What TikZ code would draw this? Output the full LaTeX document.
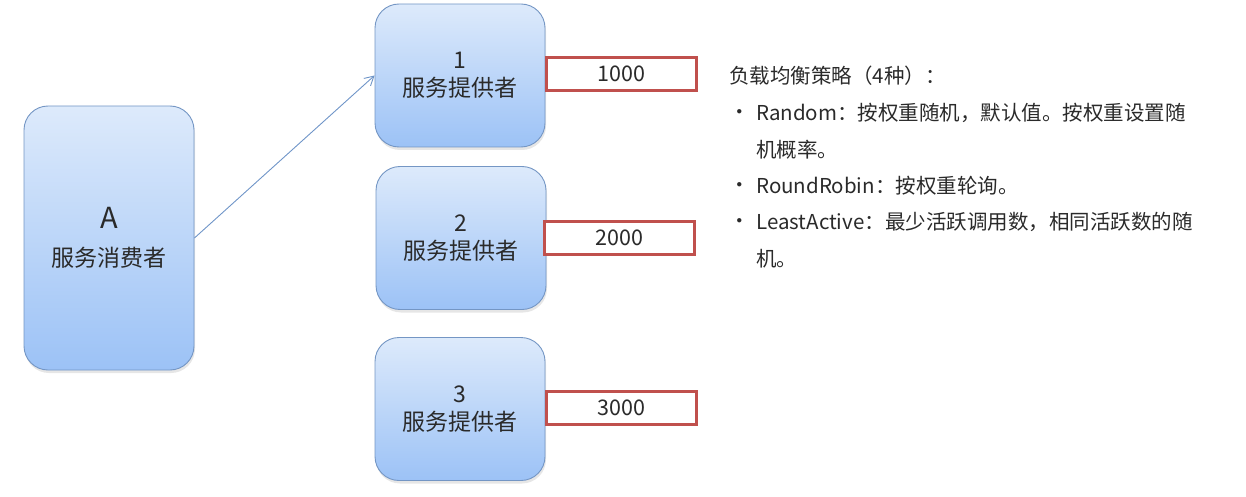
\documentclass[tikz,border=0pt]{standalone}
\usepackage{fontspec}
\setmainfont{Noto Sans CJK SC}
\usetikzlibrary{arrows.meta,shadows}
\definecolor{txt}{HTML}{2A2A2A}
\definecolor{bordblue}{HTML}{7496C4}
\definecolor{topblue}{HTML}{DDEAFB}
\definecolor{botblue}{HTML}{9CC2F6}
\definecolor{redbord}{HTML}{C0504D}
\definecolor{arrowblue}{HTML}{6F95C8}
\tikzset{
  svc/.style={draw=bordblue, line width=0.9pt, rounded corners=24pt,
    top color=topblue, bottom color=botblue, minimum width=170pt,
    minimum height=143pt, align=center, text=txt, font=\fontsize{23}{28}\selectfont,
    drop shadow={shadow xshift=1pt, shadow yshift=-3pt, opacity=0.2}},
  weight/.style={draw=redbord, line width=3pt, fill=white, minimum width=150pt,
    minimum height=33pt, text=txt, font=\fontsize{21.5}{24}\selectfont, inner sep=0pt},
  info/.style={anchor=west, text=txt, font=\fontsize{20.5}{24}\selectfont, inner sep=0pt},
}
\begin{document}
\begin{tikzpicture}[x=1pt,y=-1pt]
\useasboundingbox (0,0) rectangle (1246,497);
\node[svc, minimum height=264pt, font=\fontsize{23}{38}\selectfont] (A) at (109,238) {{\fontsize{29}{38}\selectfont A}\\服务消费者};
\node[svc] (p1) at (460,75.5) {1\\服务提供者};
\node[svc] (p2) at (461,238) {2\\服务提供者};
\node[svc] (p3) at (460,409) {3\\服务提供者};
\node[weight] (w1) at (621.5,74) {1000};
\node[weight] (w2) at (619.5,238) {2000};
\node[weight] (w3) at (621.5,408) {3000};
\draw[arrowblue, line width=0.9pt, -{Straight Barb[length=9pt,width=10pt]}] (A.east) -- (p1.west);
\node[info] (t0) at (729,76) {负载均衡策略（4种）：};
\node[info] (b1) at (729,115) {•};
\node[info] (t1) at (756,113) {Random：按权重随机，默认值。按权重设置随};
\node[info] (t1b) at (756,150) {机概率。};
\node[info] (b2) at (729,188) {•};
\node[info] (t2) at (756,186) {RoundRobin：按权重轮询。};
\node[info] (b3) at (729,224) {•};
\node[info] (t3) at (756,222) {LeastActive：最少活跃调用数，相同活跃数的随};
\node[info] (t3b) at (756,259) {机。};
\end{tikzpicture}
\end{document}
